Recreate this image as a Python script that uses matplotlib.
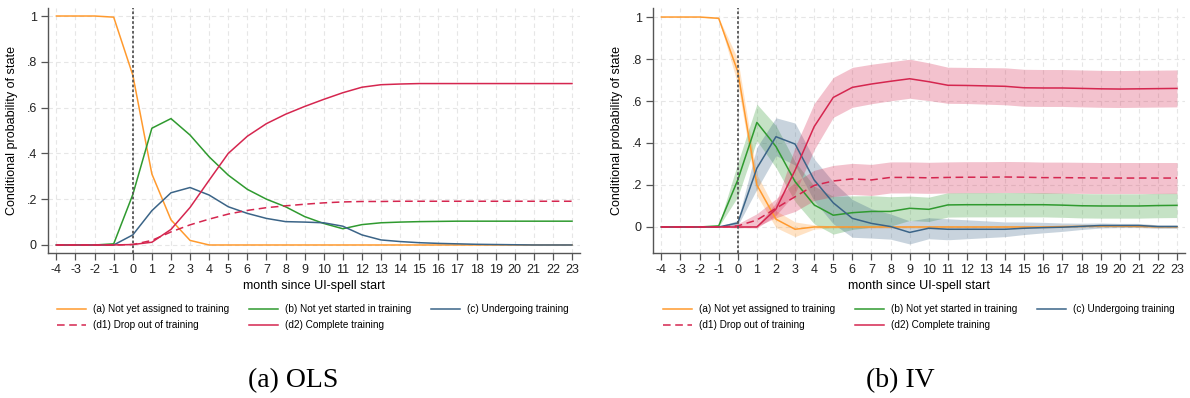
import numpy as np
import matplotlib
matplotlib.use('Agg')
import matplotlib.pyplot as plt

plt.rcParams['font.family'] = ['Liberation Sans', 'DejaVu Sans']
plt.rcParams['axes.unicode_minus'] = False

months = np.arange(-4, 24)

# ---- (a) OLS ----
ols_a = [1.0, 1.0, 1.0, 0.995, 0.742, 0.31, 0.11, 0.02, 0.0, 0.0, 0.0, 0.0, 0.0, 0.0,
         0.0, 0.0, 0.0, 0.0, 0.0, 0.0, 0.0, 0.0, 0.0, 0.0, 0.0, 0.0, 0.0, 0.0]
ols_b = [0.0, 0.0, 0.0, 0.005, 0.22, 0.51, 0.552, 0.48, 0.385, 0.305, 0.243, 0.2, 0.167, 0.124,
         0.094, 0.071, 0.089, 0.097, 0.1, 0.102, 0.103, 0.104, 0.104, 0.104, 0.104, 0.104, 0.104, 0.104]
ols_c = [0.0, 0.0, 0.0, 0.0, 0.044, 0.15, 0.228, 0.251, 0.218, 0.167, 0.138, 0.116, 0.102, 0.1,
         0.097, 0.082, 0.044, 0.022, 0.015, 0.01, 0.007, 0.005, 0.003, 0.002, 0.001, 0.0, 0.0, 0.0]
ols_d1 = [0.0, 0.0, 0.0, 0.0, 0.002, 0.02, 0.057, 0.088, 0.113, 0.135, 0.151, 0.163, 0.171, 0.178,
          0.184, 0.188, 0.19, 0.19, 0.191, 0.191, 0.191, 0.191, 0.191, 0.191, 0.191, 0.191, 0.191, 0.191]
ols_d2 = [0.0, 0.0, 0.0, 0.0, 0.002, 0.012, 0.068, 0.164, 0.283, 0.4, 0.475, 0.53, 0.571, 0.605,
          0.636, 0.665, 0.689, 0.7, 0.703, 0.705, 0.705, 0.705, 0.705, 0.705, 0.705, 0.705, 0.705, 0.705]

# ---- (b) IV : point estimates and half-width of CI ----
iv_a = [1.0, 1.0, 1.0, 0.994, 0.74, 0.2, 0.037, -0.011, 0.0, 0.0, 0.0, 0.0, 0.0, 0.0,
        0.0, 0.0, 0.0, 0.0, 0.0, 0.0, 0.0, 0.002, 0.003, 0.004, 0.004, 0.003, 0.001, 0.001]
iv_a_ci = [0.0, 0.0, 0.0, 0.003, 0.06, 0.05, 0.04, 0.035, 0.01, 0.005, 0.005, 0.005, 0.005, 0.005,
           0.005, 0.005, 0.005, 0.005, 0.005, 0.005, 0.005, 0.005, 0.005, 0.005, 0.005, 0.005, 0.005, 0.005]
iv_b = [0.0, 0.0, 0.0, 0.005, 0.224, 0.498, 0.383, 0.216, 0.105, 0.056, 0.068, 0.074, 0.074, 0.089,
        0.084, 0.105, 0.106, 0.106, 0.106, 0.106, 0.106, 0.104, 0.101, 0.1, 0.1, 0.1, 0.102, 0.103]
iv_b_ci = [0.0, 0.0, 0.0, 0.004, 0.08, 0.087, 0.1, 0.095, 0.09, 0.09, 0.08, 0.075, 0.07, 0.058,
           0.058, 0.058, 0.058, 0.058, 0.058, 0.058, 0.058, 0.058, 0.058, 0.058, 0.058, 0.058, 0.058, 0.058]
iv_c = [0.0, 0.0, 0.0, 0.0, 0.019, 0.28, 0.43, 0.395, 0.224, 0.115, 0.041, 0.017, 0.002, -0.026,
        -0.006, -0.011, -0.011, -0.011, -0.011, -0.006, -0.003, -0.001, 0.003, 0.007, 0.007, 0.007, 0.002, 0.002]
iv_c_ci = [0.0, 0.0, 0.0, 0.002, 0.012, 0.1, 0.09, 0.1, 0.1, 0.1, 0.09, 0.07, 0.06, 0.055,
           0.05, 0.05, 0.045, 0.04, 0.035, 0.03, 0.025, 0.02, 0.015, 0.012, 0.01, 0.01, 0.008, 0.008]
iv_d1 = [0.0, 0.0, 0.0, 0.0, 0.005, 0.033, 0.089, 0.144, 0.198, 0.219, 0.229, 0.224, 0.236, 0.236,
         0.234, 0.236, 0.237, 0.237, 0.238, 0.237, 0.235, 0.235, 0.234, 0.233, 0.233, 0.233, 0.233, 0.233]
iv_d1_ci = [0.0, 0.0, 0.0, 0.0, 0.01, 0.03, 0.045, 0.07, 0.072, 0.074, 0.074, 0.074, 0.074, 0.074,
            0.074, 0.074, 0.074, 0.074, 0.074, 0.074, 0.074, 0.074, 0.074, 0.074, 0.074, 0.074, 0.074, 0.074]
iv_d2 = [0.0, 0.0, 0.0, 0.0, 0.0, 0.0, 0.085, 0.27, 0.478, 0.617, 0.665, 0.681, 0.694, 0.706,
         0.692, 0.675, 0.674, 0.672, 0.67, 0.663, 0.662, 0.662, 0.66, 0.658, 0.657, 0.658, 0.659, 0.66]
iv_d2_ci = [0.0, 0.0, 0.0, 0.0, 0.003, 0.005, 0.03, 0.11, 0.11, 0.095, 0.095, 0.094, 0.093, 0.093,
            0.09, 0.086, 0.086, 0.087, 0.088, 0.088, 0.088, 0.088, 0.088, 0.088, 0.088, 0.088, 0.088, 0.088]

labels = ['(a) Not yet assigned to training', '(b) Not yet started in training',
          '(c) Undergoing training', '(d1) Drop out of training', '(d2) Complete training']
colors = ['#FF9A2E', '#2F9A2F', '#3B6487', '#D5264F', '#D5264F']
styles = ['-', '-', '-', '--', '-']

ols = [ols_a, ols_b, ols_c, ols_d1, ols_d2]
iv = [iv_a, iv_b, iv_c, iv_d1, iv_d2]
iv_ci = [iv_a_ci, iv_b_ci, iv_c_ci, iv_d1_ci, iv_d2_ci]

W, H = 1190, 398
fig = plt.figure(figsize=[W/100., H/100.], dpi=100)
ax1 = fig.add_axes([48./W, 1-253./H, 532./W, 245./H])
ax2 = fig.add_axes([653./W, 1-253./H, 532./W, 245./H])


def style_axis(ax, ylim):
    ax.set_xlim(-4.44, 23.42)
    ax.set_ylim(ylim)
    ax.set_xticks(months)
    ax.set_yticks([0, .2, .4, .6, .8, 1])
    ax.set_yticklabels(['0', '.2', '.4', '.6', '.8', '1'])
    for s in ['top', 'right']:
        ax.spines[s].set_visible(False)
    for s in ['left', 'bottom']:
        ax.spines[s].set_color('#555555')
        ax.spines[s].set_linewidth(1.0)
    ax.tick_params(direction='out', length=5, width=0.9, color='#555555',
                   labelsize=9, labelcolor='#222222', pad=3)
    ax.grid(True, color='#e6e6e6', linewidth=0.8, linestyle=(0, (4, 3)))
    ax.set_axisbelow(True)
    ax.axvline(0, color='#555555', linewidth=1.3, linestyle=(0, (1.5, 1.2)), zorder=5)
    ax.set_xlabel('month since UI-spell start', fontsize=9, labelpad=3)
    ax.set_ylabel('Conditional probability of state', fontsize=9, labelpad=6)


def line_kw(i):
    kw = dict(color=colors[i], linewidth=1.1)
    if styles[i] == '--':
        kw['linestyle'] = (0, (5, 3))
    return kw


def add_legend(ax, x0):
    h, l = ax.get_legend_handles_labels()
    order = [0, 3, 1, 4, 2]
    ax.legend([h[k] for k in order], [l[k] for k in order], ncol=3,
              loc='upper left', bbox_to_anchor=(x0/W, 1-304./H),
              bbox_transform=fig.transFigure, frameon=False,
              fontsize=7.2, handlelength=2.9, handletextpad=0.7,
              columnspacing=2.0, labelspacing=0.65, borderpad=0, borderaxespad=0)


for i in range(5):
    ax1.plot(months, ols[i], label=labels[i], **line_kw(i))
style_axis(ax1, (-0.035, 1.035))
add_legend(ax1, 57.)

for i in range(5):
    est = np.array(iv[i])
    ci = np.array(iv_ci[i])
    ax2.fill_between(months, est-ci, est+ci, color=colors[i], alpha=0.28, linewidth=0)
for i in range(5):
    ax2.plot(months, iv[i], label=labels[i], **line_kw(i))
style_axis(ax2, (-0.124, 1.043))
add_legend(ax2, 663.)

fig.text(293./W, 1-381./H, '(a) OLS', ha='center', va='center', fontsize=20,
         family=['Liberation Serif', 'DejaVu Serif'])
fig.text(900./W, 1-381./H, '(b) IV', ha='center', va='center', fontsize=20,
         family=['Liberation Serif', 'DejaVu Serif'])

fig.savefig('out.png', dpi=100)
